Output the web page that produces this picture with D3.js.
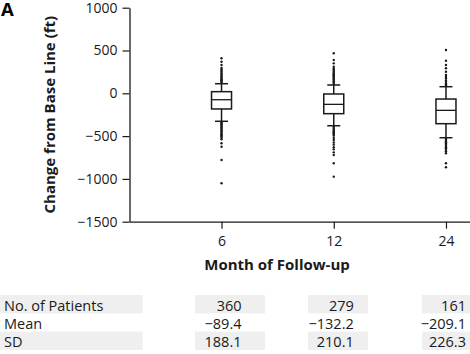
<!DOCTYPE html>
<html>
<head>
<meta charset="utf-8">
<script src="https://cdn.jsdelivr.net/npm/d3@7"></script>
<style>
  body { margin: 0; background: #fff; }
  svg { display: block; }
</style>
</head>
<body>
<div id="chart"></div>
<script>
// data
const months = ["6", "12", "24"];
const medians = [-75, -129, -199];
const q1 = [-183, -238, -355];
const q3 = [19, -8, -67];
const whiskerLow = [-327, -379, -519];
const whiskerHigh = [112, 97, 77];
const outliers6 = [125, 140, 152, 165, 178, 190, 205, 218, 232, 248, 262, 278, 295, 330, 369, 409,
  -340, -352, -365, -378, -390, -402, -415, -428, -440, -452, -465, -478, -490, -505, -520, -537, -584, -624, -779, -1051];
const outliers12 = [110, 122, 135, 148, 160, 172, 185, 198, 210, 222, 235, 248, 262, 275, 290, 311, 350, 389, 467,
  -392, -405, -418, -430, -442, -455, -468, -480, -495, -522, -545, -575, -600, -630, -655, -690, -720, -818, -974];
const outliers24 = [90, 102, 115, 135, 150, 172, 190, 214, 252, 292, 331, 381, 506,
  -532, -545, -558, -572, -585, -600, -615, -630, -645, -660, -678, -701, -818, -864];
const outliers = [outliers6, outliers12, outliers24];
const yTicks = [1000, 500, 0, -500, -1000, -1500];

const rowLabels = ["No. of Patients", "Mean", "SD"];
const patients = ["360", "279", "161"];
const means = ["\u221289.4", "\u2212132.2", "\u2212209.1"];
const sds = ["188.1", "210.1", "226.3"];

// layout
const width = 470;
const height = 354;
const fontFamily = `"Open Sans", "Liberation Sans", sans-serif`;
const tickFont = `14px ${fontFamily}`;
const tableFont = `14.5px ${fontFamily}`;
const titleFont = `bold 15px ${fontFamily}`;
const ink = `#1a1a1a`;
const grey = `#efefef`;
const boxW = 20;
const capW = 13;

const svg = d3.select(`#chart`).append(`svg`)
  .attr(`width`, width)
  .attr(`height`, height);

const yScale = d3.scaleLinear()
  .domain([-1500, 1000])
  .range([221.7, 7.7]);

const xScale = d3.scalePoint()
  .domain(months)
  .range([129.5, 538])
  .padding(0.82);

// panel letter
svg.append(`text`)
  .attr(`x`, 1)
  .attr(`y`, 15.5)
  .style(`font`, `bold 18.5px ${fontFamily}`)
  .attr(`fill`, `#000`)
  .text(`A`);

// y axis
const yAxis = svg.append(`g`)
  .attr(`transform`, `translate(129.5,0)`)
  .call(d3.axisLeft(yScale).tickValues(yTicks).tickSize(7).tickPadding(5)
    .tickSizeOuter(0)
    .tickFormat(d => d < 0 ? `\u2212${Math.abs(d)}` : `${d}`));
yAxis.select(`.domain`).attr(`stroke`, ink).attr(`stroke-width`, 1.3);
yAxis.selectAll(`.tick line`).attr(`stroke`, ink).attr(`stroke-width`, 1.2);
yAxis.selectAll(`.tick text`)
  .style(`font`, tickFont)
  .attr(`fill`, ink);

// x axis
const xAxis = svg.append(`g`)
  .attr(`transform`, `translate(0,221.7)`)
  .call(d3.axisBottom(xScale).tickSize(7).tickPadding(7).tickSizeOuter(0));
xAxis.select(`.domain`).attr(`stroke`, ink).attr(`stroke-width`, 1.3);
xAxis.selectAll(`.tick line`).attr(`stroke`, ink).attr(`stroke-width`, 1.2);
xAxis.selectAll(`.tick text`)
  .style(`font`, tickFont)
  .attr(`fill`, ink);

// axis titles
svg.append(`text`)
  .attr(`transform`, `translate(55,${yScale(-250)}) rotate(-90)`)
  .attr(`text-anchor`, `middle`)
  .style(`font`, titleFont)
  .attr(`fill`, ink)
  .text(`Change from Base Line (ft)`);

svg.append(`text`)
  .attr(`x`, 277)
  .attr(`y`, 270)
  .attr(`text-anchor`, `middle`)
  .style(`font`, titleFont)
  .attr(`fill`, ink)
  .text(`Month of Follow-up`);

// boxes
const boxes = svg.append(`g`);
months.forEach((m, i) => {
  const cx = xScale(m);

  // outliers
  boxes.selectAll(null)
    .data(outliers[i])
    .join(`circle`)
      .attr(`cx`, cx)
      .attr(`cy`, d => yScale(d))
      .attr(`r`, 1.2)
      .attr(`fill`, ink);

  // whiskers
  boxes.append(`line`)
    .attr(`x1`, cx).attr(`x2`, cx)
    .attr(`y1`, yScale(whiskerHigh[i])).attr(`y2`, yScale(q3[i]))
    .attr(`stroke`, ink).attr(`stroke-width`, 1.5);
  boxes.append(`line`)
    .attr(`x1`, cx).attr(`x2`, cx)
    .attr(`y1`, yScale(q1[i])).attr(`y2`, yScale(whiskerLow[i]))
    .attr(`stroke`, ink).attr(`stroke-width`, 1.5);

  // caps
  [whiskerHigh[i], whiskerLow[i]].forEach(v => {
    boxes.append(`line`)
      .attr(`x1`, cx - capW / 2).attr(`x2`, cx + capW / 2)
      .attr(`y1`, yScale(v)).attr(`y2`, yScale(v))
      .attr(`stroke`, ink).attr(`stroke-width`, 1.5);
  });

  // box
  boxes.append(`rect`)
    .attr(`x`, cx - boxW / 2)
    .attr(`y`, yScale(q3[i]))
    .attr(`width`, boxW)
    .attr(`height`, yScale(q1[i]) - yScale(q3[i]))
    .attr(`fill`, `#fff`)
    .attr(`stroke`, ink)
    .attr(`stroke-width`, 1.5);

  // median
  boxes.append(`line`)
    .attr(`x1`, cx - boxW / 2).attr(`x2`, cx + boxW / 2)
    .attr(`y1`, yScale(medians[i])).attr(`y2`, yScale(medians[i]))
    .attr(`stroke`, ink).attr(`stroke-width`, 1.3);
});

// table below the chart
const rowTop = [295, 313.3, 331.6];
const rowH = 18.4;
const cellLeft = [195, 308, 422];
const cellRight = [265, 368, 480];
const rows = [patients, means, sds];
const table = svg.append(`g`);

rows.forEach((vals, r) => {
  const shaded = r !== 1;
  if (shaded) {
    table.append(`rect`)
      .attr(`x`, 0).attr(`y`, rowTop[r])
      .attr(`width`, 142.7).attr(`height`, rowH)
      .attr(`fill`, grey);
  }
  table.append(`text`)
    .attr(`x`, 4)
    .attr(`y`, rowTop[r] + 15.5)
    .style(`font`, tableFont)
    .attr(`fill`, ink)
    .text(rowLabels[r]);

  vals.forEach((v, i) => {
    if (shaded) {
      table.append(`rect`)
        .attr(`x`, cellLeft[i]).attr(`y`, rowTop[r])
        .attr(`width`, cellRight[i] - cellLeft[i]).attr(`height`, rowH)
        .attr(`fill`, grey);
    }
    table.append(`text`)
      .attr(`x`, xScale(months[i]) + 20)
      .attr(`y`, rowTop[r] + 15.5)
      .attr(`text-anchor`, `end`)
      .style(`font`, tableFont)
      .attr(`fill`, ink)
      .text(v);
  });
});
</script>
</body>
</html>
